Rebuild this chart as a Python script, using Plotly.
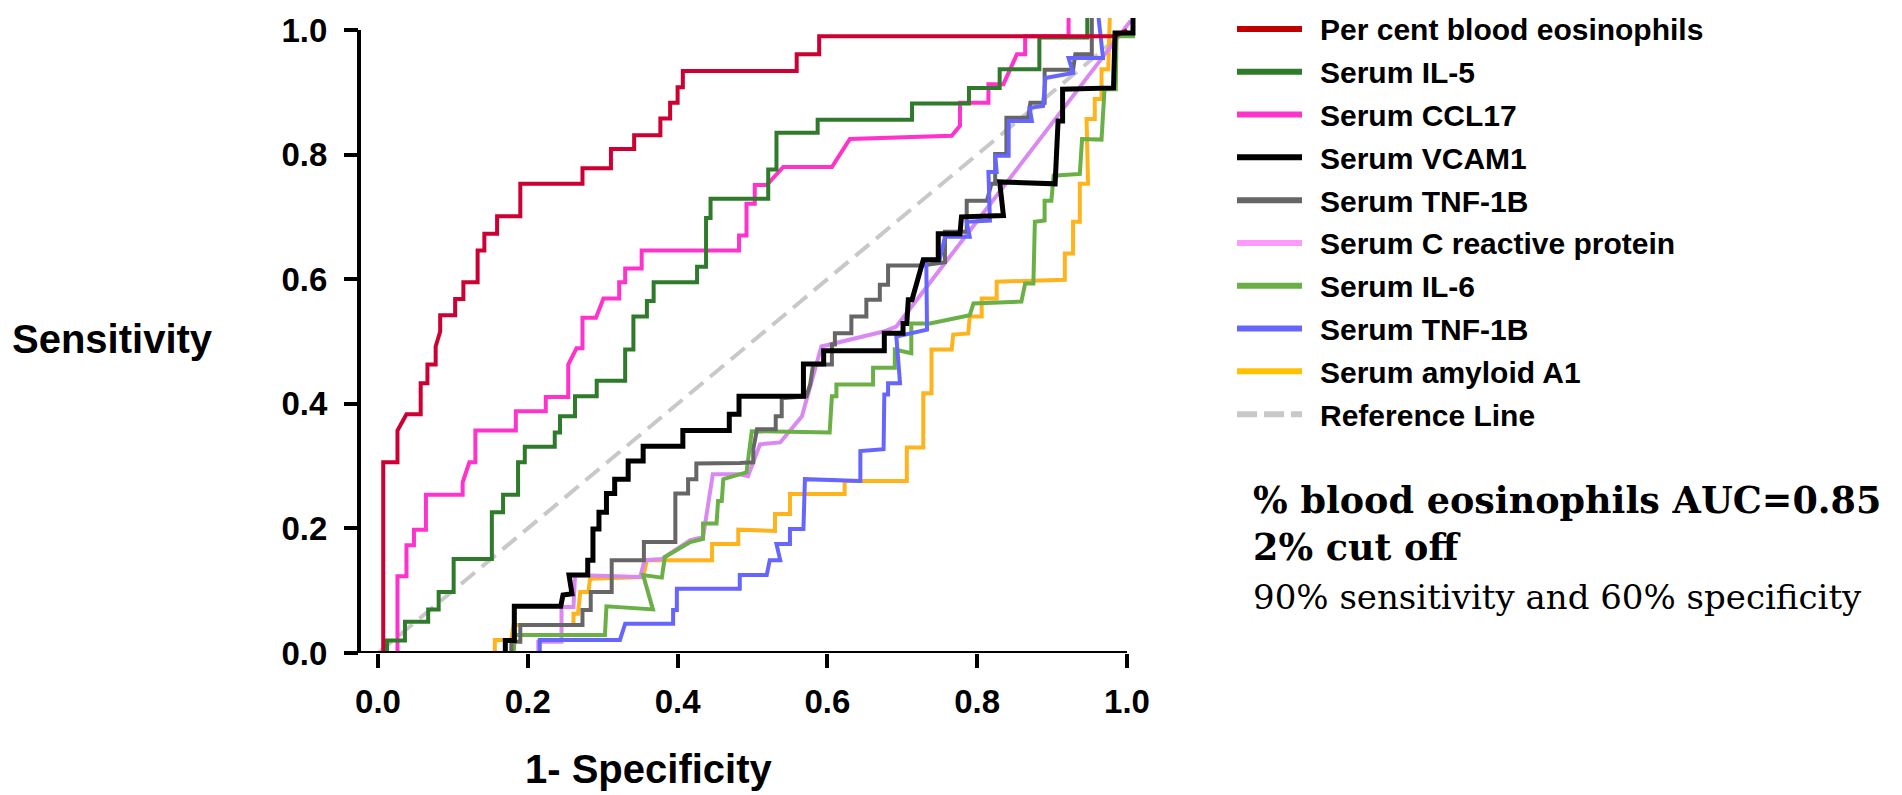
import plotly.graph_objects as go

# ---------------------------------------------------------------- data
# ROC curves: false-positive rate (1 - specificity) vs sensitivity
series_names = [
    "Per cent blood eosinophils", "Serum IL-5", "Serum CCL17", "Serum VCAM1",
    "Serum TNF-1B", "Serum C reactive protein", "Serum IL-6", "Serum TNF-1B",
    "Serum amyloid A1", "Reference Line",
]

eos_fpr = [0.007, 0.007, 0.026, 0.026, 0.038, 0.057, 0.057, 0.066, 0.066, 0.077, 0.077, 0.083, 0.083, 0.103,
           0.103, 0.114, 0.114, 0.133, 0.133, 0.142, 0.142, 0.159, 0.159, 0.190, 0.190, 0.273, 0.273, 0.311,
           0.311, 0.342, 0.342, 0.377, 0.377, 0.390, 0.390, 0.400, 0.400, 0.407, 0.407, 0.559, 0.559, 0.589,
           0.589, 0.985, 1.0]
eos_tpr = [0.0, 0.306, 0.306, 0.357, 0.383, 0.383, 0.433, 0.433, 0.463, 0.463, 0.492, 0.516, 0.542, 0.542,
           0.568, 0.568, 0.595, 0.595, 0.646, 0.646, 0.673, 0.673, 0.701, 0.701, 0.753, 0.753, 0.778, 0.778,
           0.809, 0.809, 0.831, 0.831, 0.858, 0.858, 0.883, 0.883, 0.908, 0.908, 0.934, 0.934, 0.961, 0.961,
           0.990, 0.990, 1.0]

il5_fpr = [0.012, 0.012, 0.036, 0.036, 0.067, 0.067, 0.081, 0.081, 0.101, 0.101, 0.152, 0.152, 0.167, 0.167,
           0.187, 0.187, 0.196, 0.196, 0.236, 0.236, 0.243, 0.243, 0.263, 0.263, 0.292, 0.292, 0.330, 0.330,
           0.341, 0.341, 0.359, 0.359, 0.368, 0.368, 0.426, 0.426, 0.438, 0.438, 0.444, 0.444, 0.521, 0.521,
           0.532, 0.532, 0.587, 0.587, 0.713, 0.713, 0.789, 0.789, 0.830, 0.830, 0.883, 0.883, 0.947, 0.947]
il5_tpr = [0.0, 0.020, 0.020, 0.050, 0.050, 0.070, 0.070, 0.098, 0.098, 0.151, 0.151, 0.226, 0.226, 0.254,
           0.254, 0.306, 0.306, 0.331, 0.331, 0.354, 0.354, 0.380, 0.380, 0.412, 0.412, 0.437, 0.437, 0.487,
           0.487, 0.540, 0.540, 0.565, 0.565, 0.595, 0.595, 0.620, 0.620, 0.698, 0.698, 0.729, 0.729, 0.776,
           0.776, 0.835, 0.835, 0.856, 0.856, 0.882, 0.882, 0.907, 0.907, 0.937, 0.937, 0.988, 0.988, 1.02]

ccl17_fpr = [0.026, 0.026, 0.038, 0.038, 0.048, 0.048, 0.064, 0.064, 0.113, 0.113, 0.122, 0.130, 0.130, 0.184,
             0.184, 0.224, 0.224, 0.254, 0.254, 0.265, 0.273, 0.273, 0.291, 0.301, 0.322, 0.322, 0.330, 0.330,
             0.352, 0.352, 0.482, 0.482, 0.492, 0.492, 0.503, 0.503, 0.519, 0.541, 0.606, 0.630, 0.766, 0.777,
             0.777, 0.815, 0.815, 0.835, 0.853, 0.864, 0.864, 0.922, 0.922]
ccl17_tpr = [0.0, 0.123, 0.123, 0.173, 0.173, 0.198, 0.198, 0.254, 0.254, 0.274, 0.306, 0.306, 0.357, 0.357,
             0.388, 0.388, 0.411, 0.411, 0.463, 0.489, 0.489, 0.538, 0.538, 0.569, 0.569, 0.595, 0.595, 0.617,
             0.617, 0.646, 0.646, 0.670, 0.670, 0.721, 0.721, 0.751, 0.751, 0.780, 0.780, 0.825, 0.830, 0.846,
             0.883, 0.883, 0.913, 0.913, 0.961, 0.961, 0.990, 0.990, 1.02]

vcam1_fpr = [0.170, 0.170, 0.182, 0.182, 0.244, 0.247, 0.259, 0.255, 0.280, 0.280, 0.287, 0.287, 0.295, 0.295,
             0.305, 0.305, 0.316, 0.316, 0.334, 0.334, 0.354, 0.354, 0.407, 0.407, 0.469, 0.469, 0.482, 0.482,
             0.568, 0.568, 0.595, 0.595, 0.676, 0.676, 0.701, 0.701, 0.706, 0.708, 0.713, 0.728, 0.748, 0.748,
             0.777, 0.779, 0.835, 0.830, 0.904, 0.908, 0.914, 0.914, 0.982, 0.984, 1.008, 1.008]
vcam1_tpr = [0.0, 0.020, 0.020, 0.075, 0.075, 0.093, 0.095, 0.125, 0.125, 0.149, 0.149, 0.199, 0.199, 0.226,
             0.226, 0.256, 0.256, 0.279, 0.279, 0.308, 0.308, 0.332, 0.332, 0.357, 0.357, 0.383, 0.383, 0.412,
             0.412, 0.464, 0.464, 0.485, 0.485, 0.513, 0.513, 0.529, 0.529, 0.567, 0.567, 0.631, 0.631, 0.673,
             0.673, 0.700, 0.702, 0.756, 0.753, 0.854, 0.854, 0.905, 0.907, 0.995, 0.995, 1.02]

tnf_a_fpr = [0.178, 0.178, 0.190, 0.190, 0.273, 0.273, 0.284, 0.284, 0.312, 0.312, 0.355, 0.355, 0.397, 0.397,
             0.414, 0.414, 0.425, 0.425, 0.483, 0.501, 0.501, 0.506, 0.531, 0.531, 0.539, 0.539, 0.572, 0.577,
             0.581, 0.606, 0.606, 0.610, 0.610, 0.632, 0.632, 0.652, 0.652, 0.670, 0.670, 0.681, 0.681, 0.726,
             0.757, 0.757, 0.786, 0.786, 0.813, 0.819, 0.824, 0.824, 0.839, 0.839, 0.868, 0.871, 0.890, 0.890,
             0.928, 0.931, 0.953, 0.953]
tnf_a_tpr = [0.0, 0.018, 0.018, 0.045, 0.045, 0.069, 0.069, 0.098, 0.098, 0.149, 0.149, 0.178, 0.178, 0.256,
             0.256, 0.279, 0.279, 0.304, 0.305, 0.306, 0.327, 0.359, 0.359, 0.380, 0.380, 0.409, 0.412, 0.431,
             0.463, 0.463, 0.495, 0.495, 0.513, 0.513, 0.540, 0.540, 0.567, 0.567, 0.591, 0.591, 0.622, 0.622,
             0.627, 0.676, 0.676, 0.726, 0.726, 0.753, 0.753, 0.801, 0.801, 0.859, 0.859, 0.883, 0.883, 0.936,
             0.936, 0.961, 0.961, 1.02]

crp_fpr = [0.214, 0.214, 0.245, 0.245, 0.261, 0.263, 0.350, 0.356, 0.379, 0.417, 0.434, 0.447, 0.483, 0.494,
           0.510, 0.537, 0.566, 0.592, 0.675, 0.692, 1.005]
crp_tpr = [0.0, 0.018, 0.018, 0.074, 0.074, 0.125, 0.122, 0.149, 0.151, 0.181, 0.186, 0.287, 0.287, 0.284,
           0.335, 0.338, 0.380, 0.492, 0.516, 0.524, 1.015]

il6_fpr = [0.181, 0.183, 0.303, 0.305, 0.367, 0.354, 0.379, 0.383, 0.417, 0.434, 0.434, 0.452, 0.454, 0.459,
           0.461, 0.483, 0.492, 0.499, 0.603, 0.606, 0.612, 0.612, 0.661, 0.661, 0.690, 0.690, 0.712, 0.712,
           0.737, 0.790, 0.795, 0.859, 0.864, 0.875, 0.877, 0.890, 0.890, 0.899, 0.902, 0.937, 0.940, 0.966,
           0.968, 0.970, 0.985, 0.986, 1.008, 1.008]
il6_tpr = [0.0, 0.029, 0.029, 0.075, 0.070, 0.125, 0.121, 0.154, 0.178, 0.183, 0.208, 0.208, 0.244, 0.244,
           0.279, 0.288, 0.290, 0.356, 0.354, 0.412, 0.412, 0.431, 0.431, 0.458, 0.458, 0.487, 0.481, 0.529,
           0.529, 0.542, 0.561, 0.564, 0.593, 0.593, 0.692, 0.694, 0.726, 0.726, 0.766, 0.769, 0.825, 0.824,
           0.883, 0.905, 0.905, 0.990, 0.990, 1.02]

tnf_b_fpr = [0.216, 0.216, 0.323, 0.330, 0.394, 0.394, 0.399, 0.399, 0.483, 0.483, 0.519, 0.523, 0.537, 0.532,
             0.550, 0.550, 0.568, 0.570, 0.644, 0.644, 0.675, 0.676, 0.681, 0.681, 0.697, 0.692, 0.733, 0.732,
             0.750, 0.757, 0.790, 0.786, 0.817, 0.815, 0.826, 0.824, 0.842, 0.842, 0.873, 0.870, 0.888, 0.891,
             0.928, 0.922, 0.968, 0.962]
tnf_b_tpr = [0.0, 0.021, 0.021, 0.047, 0.047, 0.069, 0.069, 0.103, 0.103, 0.125, 0.125, 0.149, 0.149, 0.175,
             0.175, 0.199, 0.199, 0.279, 0.276, 0.324, 0.327, 0.415, 0.415, 0.433, 0.433, 0.508, 0.519, 0.631,
             0.631, 0.668, 0.668, 0.692, 0.694, 0.772, 0.772, 0.798, 0.798, 0.854, 0.854, 0.875, 0.878, 0.923,
             0.931, 0.955, 0.955, 1.02]

saa1_fpr = [0.156, 0.156, 0.178, 0.181, 0.261, 0.261, 0.267, 0.270, 0.281, 0.283, 0.354, 0.359, 0.446, 0.446,
            0.481, 0.481, 0.530, 0.530, 0.550, 0.550, 0.623, 0.623, 0.706, 0.706, 0.728, 0.728, 0.739, 0.739,
            0.766, 0.768, 0.788, 0.790, 0.806, 0.806, 0.826, 0.826, 0.917, 0.917, 0.928, 0.928, 0.937, 0.937,
            0.948, 0.946, 0.957, 0.957, 0.966, 0.966, 0.975, 0.977]
saa1_tpr = [0.0, 0.021, 0.021, 0.045, 0.045, 0.063, 0.063, 0.098, 0.098, 0.119, 0.122, 0.149, 0.149, 0.175,
            0.175, 0.198, 0.196, 0.223, 0.223, 0.255, 0.255, 0.276, 0.276, 0.330, 0.330, 0.417, 0.417, 0.487,
            0.487, 0.511, 0.513, 0.540, 0.540, 0.569, 0.569, 0.596, 0.599, 0.641, 0.641, 0.692, 0.692, 0.753,
            0.753, 0.857, 0.857, 0.889, 0.889, 0.937, 0.937, 1.02]

ref_fpr = [0.0, 1.0]
ref_tpr = [0.0, 1.0]

x_ticks = [0.0, 0.2, 0.4, 0.6, 0.8, 1.0]
y_ticks = [0.0, 0.2, 0.4, 0.6, 0.8, 1.0]
tick_text = ["0.0", "0.2", "0.4", "0.6", "0.8", "1.0"]

note_lines = ["% blood eosinophils AUC=0.85", "2% cut off", "90% sensitivity and 60% specificity"]

# ---------------------------------------------------------------- styling
curve_colors = ["#CC0033", "#2F7A2B", "#FF33CC", "#000000", "#666666",
                "#DA88F2", "#6AB046", "#6666FF", "#FFB41E", "#C8C8C8"]
key_colors = ["#C00000", "#2F7A2B", "#FF33CC", "#000000", "#666666",
              "#FF99FF", "#6AB046", "#6666FF", "#FFC000", "#C8C8C8"]

W, H = 1902, 795
PLOT_L, PLOT_R, PLOT_T, PLOT_B = 359, 1139, 15, 653   # plot area (px)
X0_PX, X_PER = 378, 749                               # x = 0 position, px per unit
Y0_PX, Y_PER = 653, 626                               # y = 0 position, px per unit

SANS = "Liberation Sans"
SERIF = "DejaVu Serif"


def paper_x(px):
    return (px - PLOT_L) / (PLOT_R - PLOT_L)


def paper_y(py):
    return (PLOT_B - py) / (PLOT_B - PLOT_T)


x_range = [(PLOT_L - X0_PX) / X_PER, (PLOT_R - X0_PX) / X_PER]
y_range = [(Y0_PX - PLOT_B) / Y_PER, (Y0_PX - PLOT_T) / Y_PER]

curves = [
    (eos_fpr, eos_tpr), (il5_fpr, il5_tpr), (ccl17_fpr, ccl17_tpr), (vcam1_fpr, vcam1_tpr),
    (tnf_a_fpr, tnf_a_tpr), (crp_fpr, crp_tpr), (il6_fpr, il6_tpr), (tnf_b_fpr, tnf_b_tpr),
    (saa1_fpr, saa1_tpr), (ref_fpr, ref_tpr),
]
draw_order = [9, 8, 5, 6, 4, 7, 2, 1, 0, 3]

fig = go.Figure()
for i in draw_order:
    xs, ys = curves[i]
    dash = "18px,9px" if i == 9 else "solid"
    width = 5 if i == 3 else 4
    fig.add_trace(go.Scatter(
        x=xs, y=ys, mode="lines", name=series_names[i], showlegend=False,
        line=dict(color=curve_colors[i], width=width, dash=dash),
        hoverinfo="skip",
    ))

axis_common = dict(
    showgrid=False, zeroline=False, showline=False,
    ticks="outside", ticklen=14, tickwidth=4, tickcolor="black",
    tickfont=dict(family=SANS, size=33, color="black", weight="bold"),
    ticktext=tick_text,
)
fig.update_xaxes(range=x_range, tickvals=x_ticks, ticklabelstandoff=5, **axis_common)
fig.update_yaxes(range=y_range, tickvals=y_ticks, ticklabelstandoff=10, **axis_common)

shapes = [
    # x axis line (runs slightly past the y axis on the left)
    dict(type="line", xref="paper", yref="y", x0=paper_x(347), x1=paper_x(X0_PX + X_PER * 1.0),
         y0=0, y1=0, line=dict(color="black", width=4)),
    # y axis line
    dict(type="line", xref="paper", yref="y", x0=0, x1=0, y0=0, y1=1.0,
         line=dict(color="black", width=4)),
]

annotations = [
    dict(text="Sensitivity", xref="paper", yref="paper", x=paper_x(10), y=paper_y(338),
         xanchor="left", yanchor="middle", showarrow=False,
         font=dict(family=SANS, size=40, color="black", weight="bold")),
    dict(text="1- Specificity", xref="paper", yref="paper", x=paper_x(649), y=paper_y(770),
         xanchor="center", yanchor="middle", showarrow=False,
         font=dict(family=SANS, size=40, color="black", weight="bold")),
]

# key: coloured line samples with labels
KEY_X0, KEY_X1, KEY_TEXT_X = 1237, 1302, 1318
KEY_TOP, KEY_STEP = 26, 43.0
for i, name in enumerate(series_names):
    row_y = KEY_TOP + KEY_STEP * i
    shapes.append(dict(
        type="line", xref="paper", yref="paper",
        x0=paper_x(KEY_X0), x1=paper_x(KEY_X1), y0=paper_y(row_y), y1=paper_y(row_y),
        line=dict(color=key_colors[i], width=6, dash="20px,7px" if i == 9 else "solid"),
    ))
    annotations.append(dict(
        text=name, xref="paper", yref="paper", x=paper_x(KEY_TEXT_X), y=paper_y(row_y + 1),
        xanchor="left", yanchor="middle", showarrow=False,
        font=dict(family=SANS, size=30, color="black", weight="bold"),
    ))

# AUC note
note_y = [500, 547, 597]
note_size = [36.5, 36.5, 34]
note_weight = ["bold", "bold", "normal"]
for line, ny, ns, nw in zip(note_lines, note_y, note_size, note_weight):
    annotations.append(dict(
        text=line, xref="paper", yref="paper", x=paper_x(1251), y=paper_y(ny),
        xanchor="left", yanchor="middle", showarrow=False,
        font=dict(family=SERIF, size=ns, color="black", weight=nw),
    ))

fig.update_layout(
    width=W, height=H, autosize=False,
    margin=dict(l=PLOT_L, r=W - PLOT_R, t=PLOT_T, b=H - PLOT_B, pad=0),
    paper_bgcolor="white", plot_bgcolor="white",
    showlegend=False, shapes=shapes, annotations=annotations,
)

fig.write_html("out.html")
